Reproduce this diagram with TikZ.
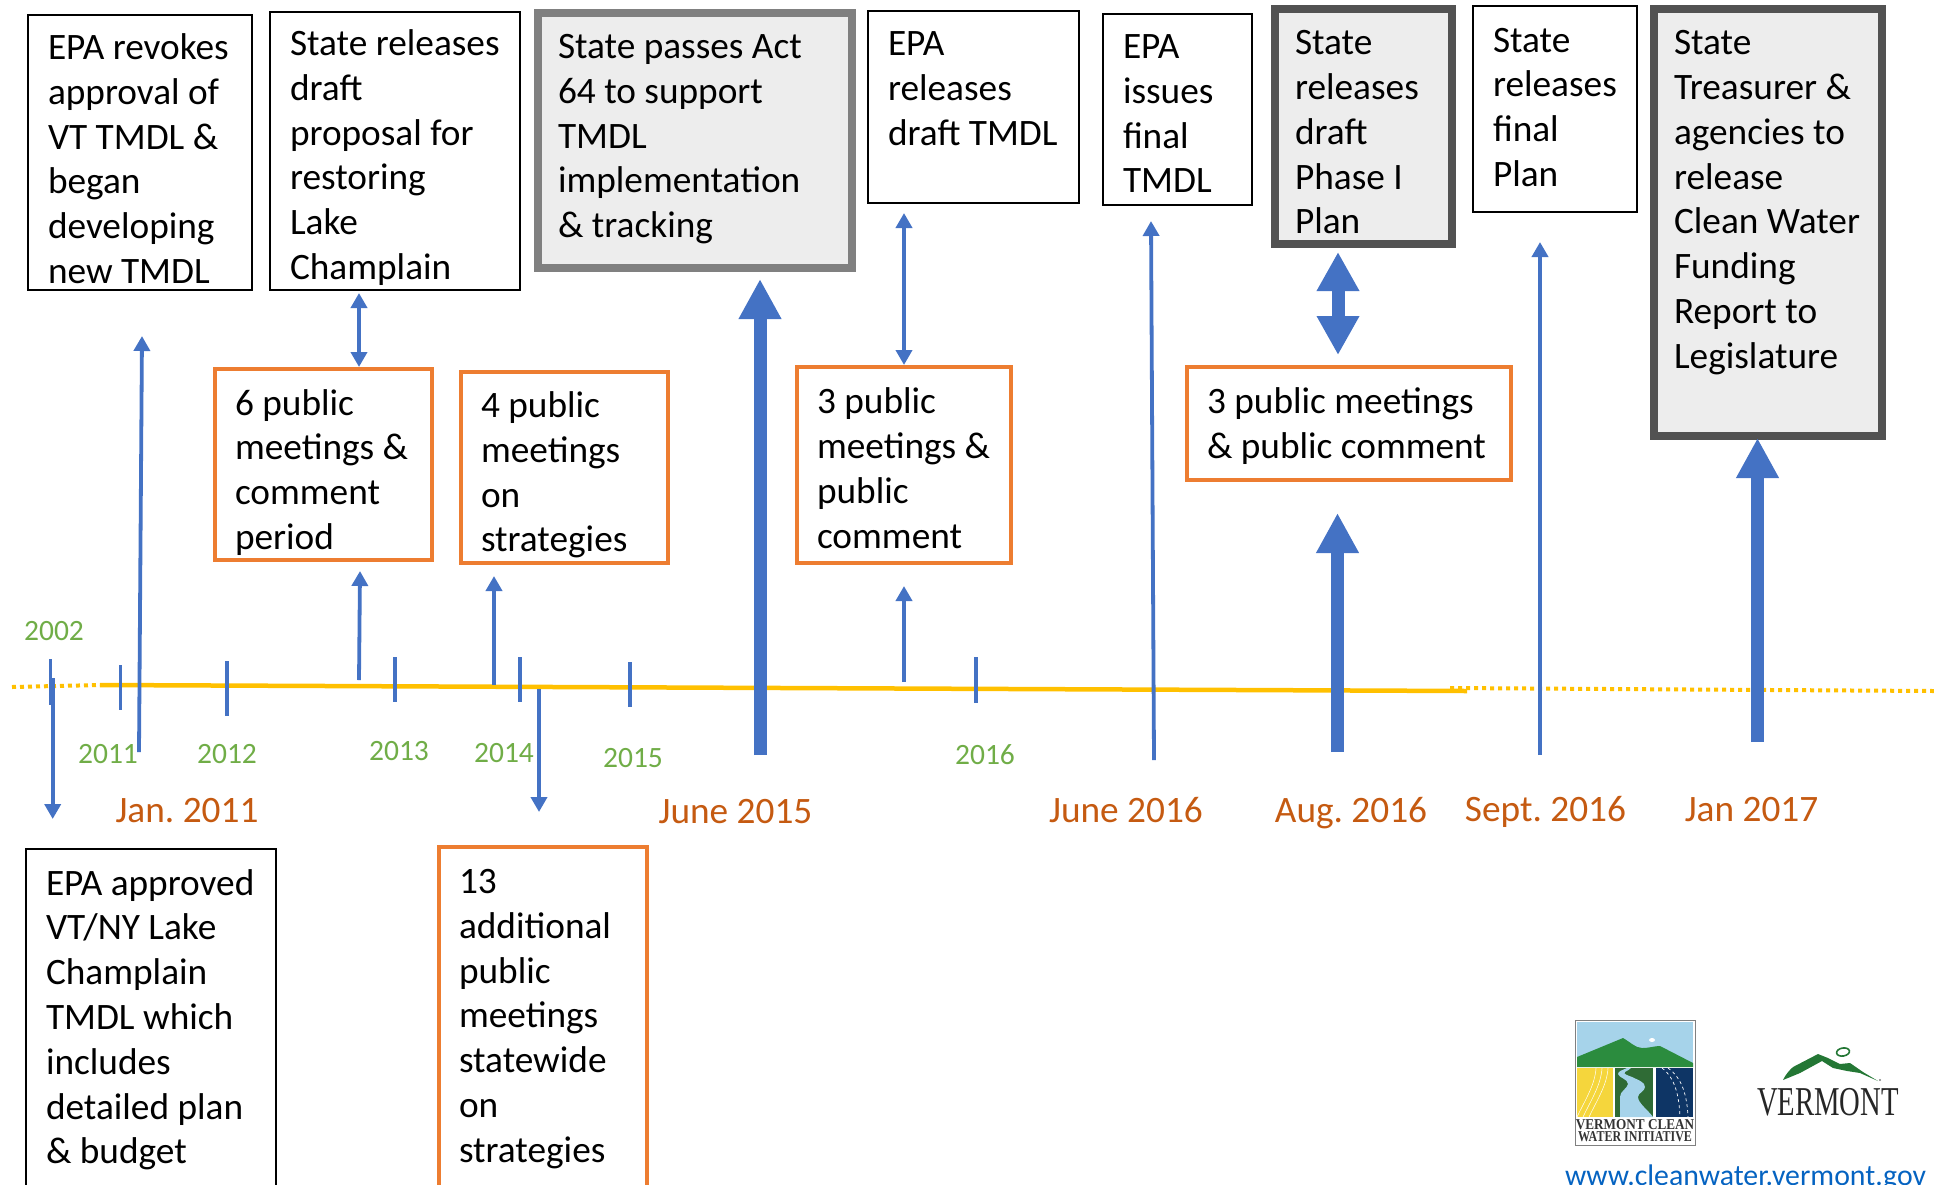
\documentclass[tikz,border=0pt]{standalone}
\usepackage{fontspec}
\setmainfont{Carlito}
\newfontfamily\logoserif{Liberation Serif}
\usetikzlibrary{arrows.meta,calc}
\frenchspacing
\definecolor{armblue}{HTML}{4472C4}
\definecolor{goldline}{HTML}{FFC000}
\definecolor{boxorange}{HTML}{ED7D31}
\definecolor{yeargreen}{HTML}{70AD47}
\definecolor{dateorange}{HTML}{C55A11}
\definecolor{boxfill}{HTML}{EDEDED}
\definecolor{linkblue}{HTML}{0563C1}
\definecolor{logosky}{HTML}{A6D3EA}
\definecolor{logogreen}{HTML}{2B8C3E}
\definecolor{logodark}{HTML}{2F6B35}
\definecolor{logonavy}{HTML}{0E3565}
\definecolor{logoyellow}{HTML}{F5D63C}
\tikzset{
  x=1pt,y=-1pt,
  plainbox/.style={draw=black,line width=2pt},
  orangebox/.style={draw=boxorange,line width=3.6pt},
  greybox/.style={draw=black!50,fill=boxfill,line width=7.7pt},
  darkbox/.style={draw=black!68,fill=boxfill,line width=8pt},
  thinarrow/.style={draw=armblue,line width=3.8pt,-{Triangle[width=16pt,length=15pt]}},
  thinboth/.style={draw=armblue,line width=3.8pt,{Triangle[width=16pt,length=15pt]}-{Triangle[width=16pt,length=15pt]}},
  fatarrow/.style={draw=armblue,line width=13pt,-{Triangle[width=40pt,length=40pt]}},
  fatboth/.style={draw=armblue,line width=13pt,{Triangle[width=40pt,length=39pt]}-{Triangle[width=40pt,length=39pt]}},
  tick/.style={draw=armblue,line width=3.4pt},
  year/.style={text=yeargreen,font=\fontsize{29.5}{35}\selectfont,inner sep=0pt},
  datelabel/.style={text=dateorange,font=\fontsize{37.3}{45}\selectfont,inner sep=0pt},
  solidgold/.style={draw=goldline,line width=4.5pt},
  dotgold/.style={draw=goldline,line width=4pt,dash pattern=on 4pt off 4pt},
  logotext/.style={inner sep=0pt,anchor=base,font=\logoserif\bfseries\fontsize{15}{15}\selectfont,text=black!80,transform shape},
}
% name, x0, y0, x1, y1, style, first baseline offset, text
\newcommand{\tbox}[8]{%
  \pgfmathsetlengthmacro{\bw}{#4-#2-40}%
  \pgfmathsetlengthmacro{\bh}{#5-#3}%
  \node[#6,anchor=north west,outer sep=0pt,inner ysep=0pt,inner xsep=20pt] (#1) at (#2,#3)
    {\parbox[c][\bh][t]{\bw}{\fontsize{37.3}{44.8}\selectfont\raggedright\rule{0pt}{#7pt}#8}};}
\begin{document}
\begin{tikzpicture}
\useasboundingbox (0,0) rectangle (1934,1184);
\clip (0,0) rectangle (1934,1184);
% timeline
\coordinate (dl0) at (12,687); \coordinate (dl1) at (100,685);
\coordinate (sl0) at (100,685); \coordinate (sl1) at (1467,691);
\coordinate (dr0) at (1450,688); \coordinate (dr1) at (1934,691);
\draw[dotgold] (dl0) -- (dl1);
\draw[solidgold] (sl0) -- (sl1);
\draw[dotgold] (dr0) -- (dr1);
% boxes
\tbox{revokes}{28}{15}{252}{290}{plainbox}{44.5}{EPA revokes\\approval of\\VT TMDL \&\\began\\developing\\new TMDL}
\tbox{draft}{270}{12}{520}{290}{plainbox}{43.5}{State releases\\draft\\proposal for\\restoring\\Lake\\Champlain}
\tbox{act}{538}{13}{852}{268}{greybox}{45.5}{State passes Act\\64 to support\\TMDL\\implementation\\\& tracking}
\tbox{epadraft}{868}{11}{1079}{203}{plainbox}{44.5}{EPA\\releases\\draft TMDL}
\tbox{epafinal}{1103}{14}{1252}{205}{plainbox}{44.5}{EPA\\issues\\final\\TMDL}
\tbox{phase}{1275}{9}{1452}{244}{darkbox}{45.7}{State\\releases\\draft\\Phase I\\Plan}
\tbox{finalplan}{1473}{6}{1637}{212}{plainbox}{46}{State\\releases\\final\\Plan}
\tbox{treasurer}{1654}{9}{1881.5}{436}{darkbox}{45.7}{State\\Treasurer \&\\agencies to\\release\\Clean Water\\Funding\\Report to\\Legislature}
\tbox{six}{215}{369}{432}{560}{orangebox}{46}{6 public\\meetings \&\\comment\\period}
\tbox{four}{461}{372}{668}{563}{orangebox}{45.5}{4 public\\meetings\\on\\strategies}
\tbox{threea}{797}{367}{1011}{563}{orangebox}{46.7}{3 public\\meetings \&\\public\\comment}
\tbox{threeb}{1187}{367}{1511}{480}{orangebox}{46.7}{3 public meetings\\\& public comment}
\tbox{thirteen}{439}{847}{647}{1210}{orangebox}{46.5}{13\\additional\\public\\meetings\\statewide\\on\\strategies}
\tbox{approved}{26}{849}{276}{1210}{plainbox}{46}{EPA approved\\VT/NY Lake\\Champlain\\TMDL which\\includes\\detailed plan\\\& budget}
% ticks
\foreach \n/\x/\a/\b in {t2002/50.5/659/705,t2011/120.5/665/710,t2012/227/661/716,t2013/395/657/702,t2014/520/657/702,t2015/630/662/707,t2016/976/657/703}{
  \coordinate (\n a) at (\x,\a); \coordinate (\n b) at (\x,\b);
  \draw[tick] (\n a) -- (\n b);
}
% free ends
\coordinate (f2002a) at (52.7,678); \coordinate (f2002b) at (52.7,819);
\coordinate (fjan) at (139,752); \coordinate (fjanh) at (142,336);
\coordinate (fsix) at (359,680); \coordinate (fsixh) at (360,571);
\coordinate (ffour) at (494,685); \coordinate (ffourh) at (494,576);
\coordinate (f13a) at (539,689); \coordinate (f13b) at (539,812);
\coordinate (fact) at (760,755); \coordinate (facth) at (760,279);
\coordinate (fthree) at (904,682); \coordinate (fthreeh) at (904,586);
\coordinate (fissue) at (1154,760); \coordinate (fissueh) at (1151,221);
\coordinate (faug) at (1337.5,752); \coordinate (faugh) at (1337.5,513);
\coordinate (fsep) at (1540,755); \coordinate (fseph) at (1540,242);
\coordinate (fjn) at (1757.5,742); \coordinate (fjnh) at (1757.5,438);
\draw[thinarrow] (f2002a) -- (f2002b);
\draw[thinarrow] (fjan) -- (fjanh);
\draw[thinarrow] (fsix) -- (fsixh);
\draw[thinarrow] (ffour) -- (ffourh);
\draw[thinarrow] (f13a) -- (f13b);
\draw[thinarrow] (fthree) -- (fthreeh);
\draw[thinarrow] (fissue) -- (fissueh);
\draw[thinarrow] (fsep) -- (fseph);
\draw[fatarrow] (fact) -- (facth);
\draw[fatarrow] (faug) -- (faugh);
\draw[fatarrow] (fjn) -- (fjnh);
\draw[thinboth] ([xshift=-36pt,yshift=-3pt]draft.south) -- ([xshift=35.5pt,yshift=2pt]six.north);
\draw[thinboth] ([xshift=-69.5pt,yshift=-10pt]epadraft.south) -- ([xshift=0pt,yshift=2pt]threea.north);
\draw[fatboth] ([xshift=-25.5pt,yshift=-8pt]phase.south) -- ([xshift=-11pt,yshift=12pt]threeb.north);
% year labels
\node[year,anchor=base] (y2002) at (54,640) {2002};
\node[year,anchor=base] (y2011) at (108,763) {2011};
\node[year,anchor=base] (y2012) at (227,763) {2012};
\node[year,anchor=base] (y2013) at (399,760) {2013};
\node[year,anchor=base] (y2014) at (504,762) {2014};
\node[year,anchor=base] (y2015) at (633,767) {2015};
\node[year,anchor=base] (y2016) at (985,764) {2016};
% date labels
\node[datelabel,anchor=base] (d1) at (187,822) {Jan. 2011};
\node[datelabel,anchor=base] (d2) at (735.5,823) {June 2015};
\node[datelabel,anchor=base] (d3) at (1126,822) {June 2016};
\node[datelabel,anchor=base] (d4) at (1351,822) {Aug. 2016};
\node[datelabel,anchor=base] (d5) at (1545.5,821) {Sept. 2016};
\node[datelabel,anchor=base] (d6) at (1751.5,821) {Jan 2017};
% url
\node[anchor=base,text=linkblue,font=\fontsize{29.8}{35}\selectfont,inner sep=0pt] (url) at (1745.5,1185) {www.cleanwater.vermont.gov};
% left logo
\draw[draw=gray,line width=1pt,fill=white] (1575,1020) rectangle (1695,1145);
\fill[logosky] (1577,1022) rectangle (1693,1067);
\fill[logogreen] (1577,1067) -- (1577,1057) -- (1623,1038) .. controls (1630,1042) and (1636,1048) .. (1642,1048) .. controls (1650,1048) and (1654,1046) .. (1660,1046) -- (1693,1063) -- (1693,1067) -- cycle;
\fill[white] (1652,1040) ellipse (3 and 2);
\fill[logoyellow] (1577,1068) rectangle (1613,1117);
\foreach \k in {0,6,...,12}{\draw[white,line width=.5pt] (1577+\k,1117) .. controls (1585+\k,1100) and (1595+\k,1085) .. (1596+\k,1068);}
\fill[logodark] (1615,1068) rectangle (1653,1117);
\fill[logosky] (1627,1068) .. controls (1623,1070) and (1618,1071) .. (1618,1074) .. controls (1619,1078) and (1628,1079) .. (1628,1084) .. controls (1627,1089) and (1620,1091) .. (1620,1097) -- (1620,1117) -- (1653,1117) .. controls (1648,1110) and (1638,1103) .. (1638,1097) .. controls (1638,1093) and (1645,1091) .. (1645,1087) .. controls (1645,1082) and (1638,1080) .. (1632,1077) .. controls (1627,1075) and (1623,1074) .. (1625,1072) .. controls (1627,1070) and (1630,1070) .. (1631,1068) -- cycle;
\fill[logonavy] (1656,1068) rectangle (1693,1117);
\draw[white,line width=.7pt,dashed] (1662,1068) .. controls (1675,1078) and (1679,1095) .. (1680,1117);
\draw[white,line width=.7pt,dashed] (1668,1068) .. controls (1682,1078) and (1687,1095) .. (1688,1117);
\node[logotext,xscale=.88] (cwa) at (1635,1129) {VERMONT CLEAN};
\node[logotext,xscale=.80] (cwb) at (1635,1141) {WATER INITIATIVE};
% right logo
\fill[logogreen!85!black] (1783,1080) .. controls (1787,1072) and (1790,1070) .. (1793,1067) -- (1818,1054) -- (1828,1058) -- (1840,1064) -- (1850,1063) -- (1863,1072) -- (1878,1081) -- (1860,1073) -- (1847,1071) -- (1833,1068) -- (1822,1061) -- (1800,1073) -- cycle;
\draw[logogreen!85!black,line width=1.6pt,rotate around={10:(1843,1052)}] (1843,1052) ellipse (6.5 and 4);
\fill[black!50] (1880,1080) circle (1.2);
\node[inner sep=0pt,anchor=base,font=\logoserif\fontsize{41}{41}\selectfont,text=black!85,xscale=.70,transform shape] (vt) at (1828,1115) {VERMONT};
\end{tikzpicture}
\end{document}
